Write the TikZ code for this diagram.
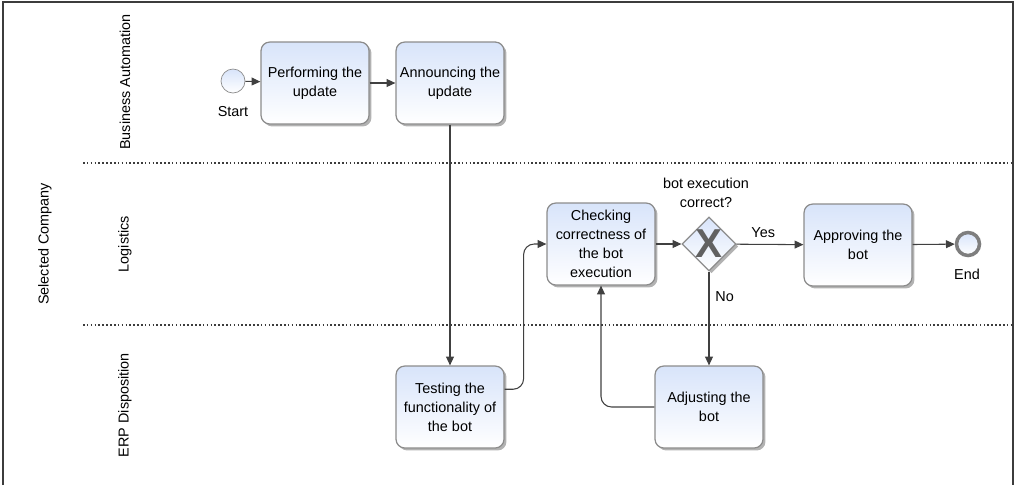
\documentclass[tikz,border=0pt]{standalone}
\usepackage{fontspec}
\setmainfont{Liberation Sans}
\usepackage{tikz}
\usetikzlibrary{shapes.geometric}
\usetikzlibrary{shadows}
\usetikzlibrary{arrows.meta}

\definecolor{boxtop}{HTML}{D8E4FA}
\definecolor{boxline}{HTML}{8C8C8C}
\definecolor{flowline}{HTML}{404040}
\definecolor{framecol}{HTML}{3C3C3C}

\begin{document}
\begin{tikzpicture}
		[x=0.02cm, y=-0.02cm,
			font=\fontsize{8.2}{10.8}\selectfont,
			task/.style={rectangle, rounded corners=5pt, draw=boxline, line width=0.7pt,
				top color=boxtop, bottom color=white, minimum width=2.16cm, minimum height=1.64cm,
				align=center, inner sep=1pt,
				drop shadow={shadow xshift=1.4pt, shadow yshift=-1.4pt, opacity=0.3, fill=black}},
			event/.style={circle, draw=boxline, top color=boxtop, bottom color=white,
				minimum size=0.48cm, inner sep=0pt},
			gateway/.style={diamond, aspect=1, draw=boxline, line width=0.7pt,
				top color=boxtop, bottom color=white, minimum size=1.08cm, inner sep=0pt,
				drop shadow={shadow xshift=1.4pt, shadow yshift=-1.4pt, opacity=0.3, fill=black}},
			flow/.style={draw=flowline, line width=0.6pt, -{Triangle[length=5pt, width=4.5pt]}},
			lane/.style={rotate=90},
			sep/.style={draw=framecol, line width=1.2pt, dash pattern=on 0.9pt off 1.3pt}]
		\useasboundingbox (0,0) rectangle (1017,485);
		% outer frame
		\draw[framecol, line width=1.2pt] (3,485) -- (3,2) -- (1013,2) -- (1013,485);
		% lane separators
		\draw[sep] (83,163) -- (1012,163);
		\draw[sep] (83,325) -- (1012,325);
		% pool and lane labels
		\node[lane] (pool) at (45,244) {Selected Company};
		\node[lane] (laneA) at (125,82) {Business Automation};
		\node[lane] (laneB) at (125,244) {Logistics};
		\node[lane] (laneC) at (125,405) {ERP Disposition};
		% events
		\node[event] (start) at (233,81) {};
		\node (startlbl) at (233,112) {Start};
		\node[event, draw=boxline!90!black, line width=2pt, minimum size=0.46cm] (end) at (968,244) {};
		\node (endlbl) at (967,274) {End};
		% tasks
		\node[task] (perform) at (315,83) {Performing the\\update};
		\node[task] (announce) at (450,83) {Announcing the\\update};
		\node[task] (test) at (450,407) {Testing the\\functionality of\\the bot};
		\node[task] (check) at (601,244) {Checking\\correctness of\\the bot\\execution};
		\node[task] (approve) at (858,245) {Approving the\\bot};
		\node[task] (adjust) at (709,407) {Adjusting the\\bot};
		% gateway
		\node[gateway] (gw) at (709,244) {};
		\node[text=black!62, font=\fontsize{23}{23}\selectfont\bfseries] (gwx) at (gw.center) {X};
		\node[align=center] (gwlbl) at (706,193) {bot execution\\correct?};
		% sequence flows
		\draw[flow] (start) -- (perform);
		\draw[flow] (perform) -- (announce);
		\draw[flow] (announce) -- (test);
		\draw[flow, rounded corners=6pt] (test.18) -- ++(19,0) |- (check.west);
		\draw[flow] (check) -- (gw);
		\draw[flow] (gw) -- node[above, pos=0.4] (yes) {Yes} (approve);
		\draw[flow] (gw) -- node[right, pos=0.27] (no) {No} (adjust);
		\draw[flow, rounded corners=6pt] (adjust.west) -| (check.south);
		\draw[flow] (approve) -- (end);
	\end{tikzpicture}
\end{document}
